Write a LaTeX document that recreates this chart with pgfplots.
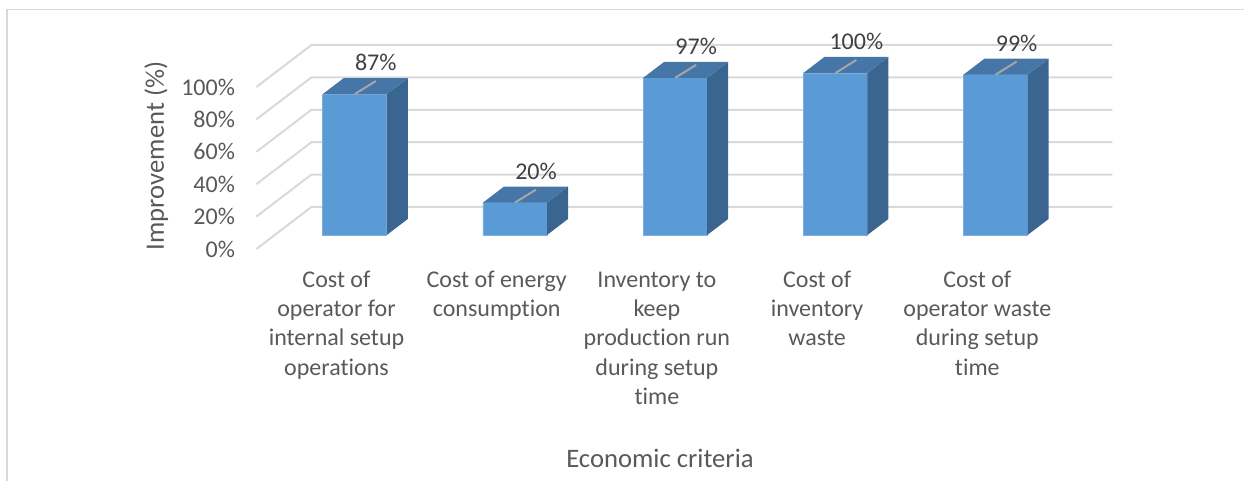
\documentclass[border=0pt]{standalone}
\usepackage{fontspec}
\setmainfont{Carlito}[Ligatures=CommonOff]
\usepackage{pgfplots}
\usepackage{pgfplotstable}
\pgfplotsset{compat=1.18}
\definecolor{frontc}{HTML}{5B9BD5}
\definecolor{topc}{HTML}{4676A8}
\definecolor{sidec}{HTML}{3A6590}
\definecolor{gridc}{HTML}{D9D9D9}
\definecolor{txt}{HTML}{595959}
\definecolor{lbl}{HTML}{404040}
\definecolor{leaderc}{HTML}{A6A6A6}

\pgfplotstableread{
x v
0 87
1 20
2 97
3 100
4 99
}\data

\pgfdeclareplotmark{leader}{%
  \pgfpathmoveto{\pgfpointorigin}%
  \pgfpathlineto{\pgfpoint{7.875pt}{4.875pt}}%
  \pgfusepathqstroke}

\begin{document}
\begin{tikzpicture}
\draw[gridc, line width=0.6pt] (2.625pt,-20pt) -- (2.625pt,176.8pt) -- (480pt,176.8pt);
\begin{axis}[
  at={(103.01pt,83.14pt)}, anchor=south west,
  x=60.075pt, y=0.6075pt,
  xmin=-0.5, xmax=4.5, ymin=-15, ymax=125,
  clip=false,
  axis line style={draw=none},
  major tick length=0pt,
  xtick={0,1,2,3,4},
  xticklabels={{\strut Cost of\\operator for\\internal setup\\operations},
               {\strut Cost of energy\\consumption},
               {\strut Inventory to\\keep\\production run\\during setup\\time},
               {\strut Cost of\\inventory\\waste},
               {\strut Cost of\\operator waste\\during setup\\time}},
  xticklabel style={align=center, anchor=north, inner sep=0pt, xshift=-6.86pt, yshift=-2.6pt,
                    font=\fontsize{9}{10.98}\selectfont, text=txt},
  ytick={0,20,40,60,80,100},
  yticklabels={0\%,20\%,40\%,60\%,80\%,100\%},
  yticklabel style={anchor=east, inner sep=0pt, xshift=-14.7pt, yshift=-5.25pt,
                    font=\fontsize{9}{10.98}\selectfont, text=txt},
  xlabel={Economic criteria},
  ylabel={Improvement (\%)},
  xlabel style={at={(axis description cs:0.481,-0.876)}, anchor=center,
                font=\fontsize{10}{12.2}\selectfont, text=txt},
  ylabel style={at={(axis description cs:-0.1477,0.4555)}, anchor=center,
                font=\fontsize{10}{12.2}\selectfont, text=txt},
  every node near coord/.style={anchor=center, xshift=7.875pt, yshift=11.8pt,
                font=\fontsize{9}{10.98}\selectfont, text=lbl},
]
% gridlines (side wall + back wall)
\pgfplotsinvokeforeach{0,20,40,60,80,100}{
  \pgfmathsetmacro\yf{#1-8.64}
  \pgfmathsetmacro\yb{#1+17.28}
  \edef\temp{\noexpand\addplot[gridc, line width=0.75pt, forget plot, mark=none]
     coordinates {(-0.6142,\yf) (-0.2709,\yb) (4.7291,\yb)};}
  \temp
}
% front faces
\addplot[ybar, bar width=24pt, fill=frontc, draw=frontc!80!white, line width=0.3pt, forget plot]
  table[x=x,y=v]{\data};
% side and top faces
\pgfplotsinvokeforeach{0,1,2,3,4}{
  \pgfplotstablegetelem{#1}{v}\of\data
  \let\vv\pgfplotsretval
  \pgfmathsetmacro\xf{#1-0.1998}
  \pgfmathsetmacro\xr{#1+0.1998}
  \pgfmathsetmacro\xb{#1+0.1998+0.1311}
  \pgfmathsetmacro\xl{#1-0.1998+0.1311}
  \pgfmathsetmacro\vt{\vv+9.877}
  \edef\temp{\noexpand\addplot[fill=sidec, draw=none, forget plot, mark=none]
      coordinates {(\xr,0) (\xr,\vv) (\xb,\vt) (\xb,9.877)};
    \noexpand\addplot[fill=topc, draw=none, forget plot, mark=none]
      coordinates {(\xf,\vv) (\xr,\vv) (\xb,\vt) (\xl,\vt)};}
  \temp
}
% leader lines
\addplot[only marks, mark=leader, mark options={draw=leaderc, line width=0.75pt}, forget plot]
  table[x=x,y=v]{\data};
% data labels
\addplot[draw=none, mark=none, point meta=y,
  nodes near coords={\pgfmathprintnumber[assume math mode=true]{\pgfplotspointmeta}\%}]
  table[x=x,y=v]{\data};
\end{axis}
\pgfresetboundingbox
\useasboundingbox (0,0) rectangle (466.5pt,180.375pt);
\end{tikzpicture}
\end{document}
